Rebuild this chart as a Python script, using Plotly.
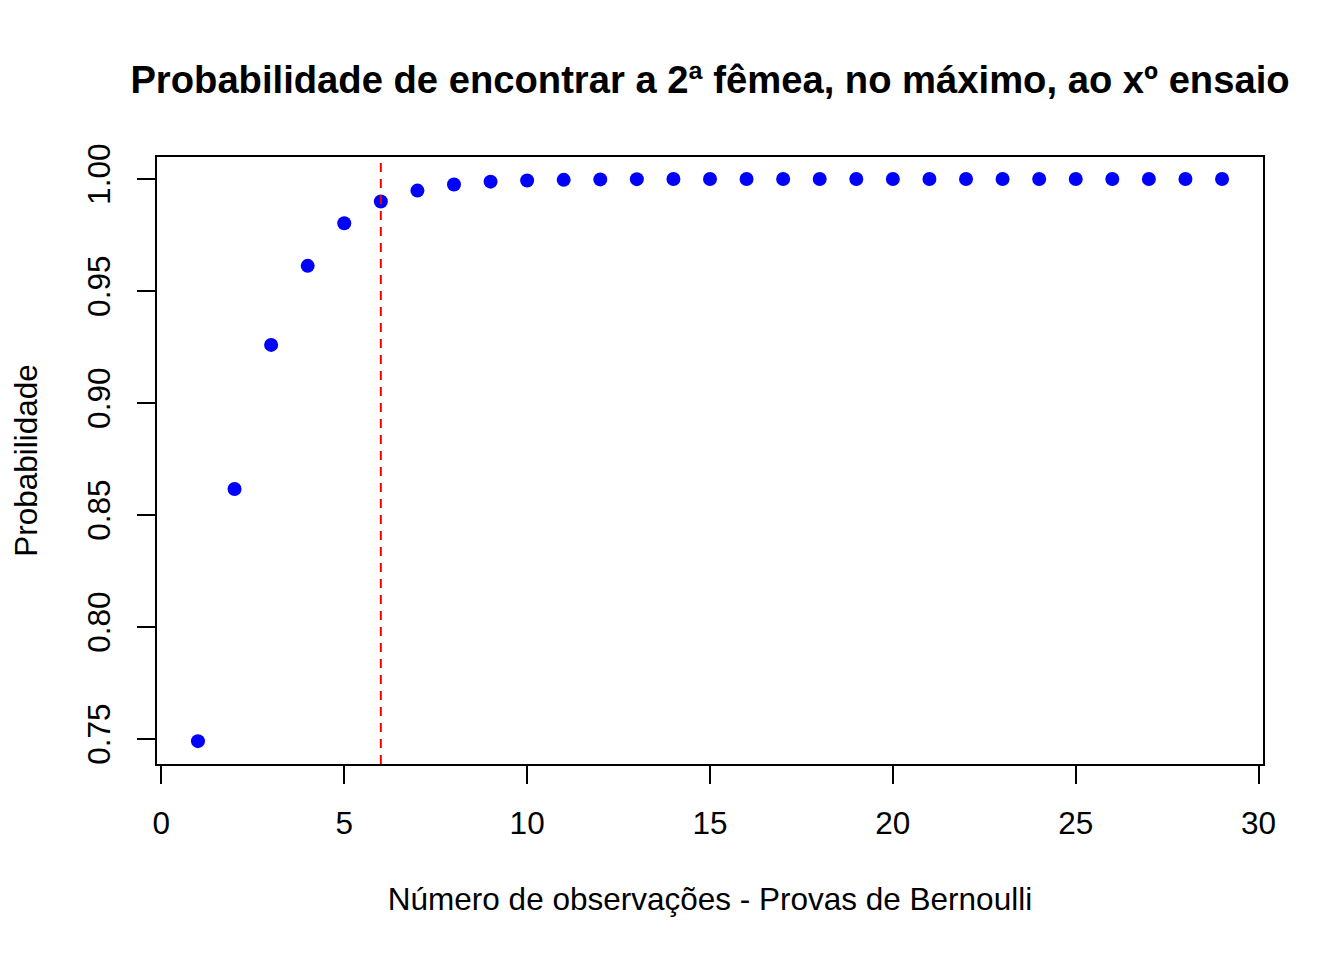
import plotly.graph_objects as go

x_vals = list(range(1, 30))
prob = [0.749, 0.8616, 0.9259, 0.9612, 0.9802, 0.9899, 0.9948, 0.9975, 0.9988,
        0.9993, 0.9996, 0.9998, 0.9999, 0.99995, 0.99998, 0.99999, 1.0, 1.0, 1.0,
        1.0, 1.0, 1.0, 1.0, 1.0, 1.0, 1.0, 1.0, 1.0, 1.0]
x_ticks = [0, 5, 10, 15, 20, 25, 30]
y_ticks = [0.75, 0.80, 0.85, 0.90, 0.95, 1.00]
y_ticktext = ["0.75", "0.80", "0.85", "0.90", "0.95", "1.00"]
vline_x = 6

FONT = "Liberation Sans, Arial, sans-serif"

fig = go.Figure()
fig.add_trace(go.Scatter(
    x=x_vals, y=prob, mode="markers",
    marker=dict(color="blue", size=14, line=dict(width=0)),
    showlegend=False, hoverinfo="x+y",
))

fig.add_shape(type="line", xref="x", yref="paper", x0=vline_x, x1=vline_x,
              y0=0, y1=1, line=dict(color="red", width=2, dash="9px,7px"),
              layer="above")

fig.update_layout(
    width=1344, height=960,
    margin=dict(l=149, r=89, t=149, b=204, pad=0),
    paper_bgcolor="white", plot_bgcolor="white",
    font=dict(family=FONT, size=31.5, color="black"),
    title=dict(
        text="<b>Probabilidade de encontrar a 2ª fêmea, no máximo, ao xº ensaio</b>",
        font=dict(family=FONT, size=38.2, color="black"),
        x=702 / 1344, xref="container", xanchor="center",
        y=1 - 72 / 960, yref="container", yanchor="middle",
    ),
    xaxis=dict(
        range=[-0.12, 30.12], tickvals=x_ticks, ticks="outside", ticklen=18,
        tickwidth=2, tickcolor="black", showline=True, linecolor="black",
        linewidth=2, mirror=True, showgrid=False, zeroline=False,
        tickfont=dict(size=31.5), ticklabelstandoff=12,
        title=dict(text="Número de observações - Provas de Bernoulli",
                   font=dict(size=31.5), standoff=48),
    ),
    yaxis=dict(
        range=[0.7388, 1.0098], tickvals=y_ticks, ticktext=y_ticktext,
        ticks="outside", ticklen=18, tickwidth=2, tickcolor="black",
        showline=True, linecolor="black", linewidth=2, mirror=True,
        showgrid=False, zeroline=False, tickangle=-90,
        tickfont=dict(size=31.5), ticklabelstandoff=14,
        title=dict(text="Probabilidade", font=dict(size=31.5), standoff=35),
    ),
)

fig.write_html("out.html")
